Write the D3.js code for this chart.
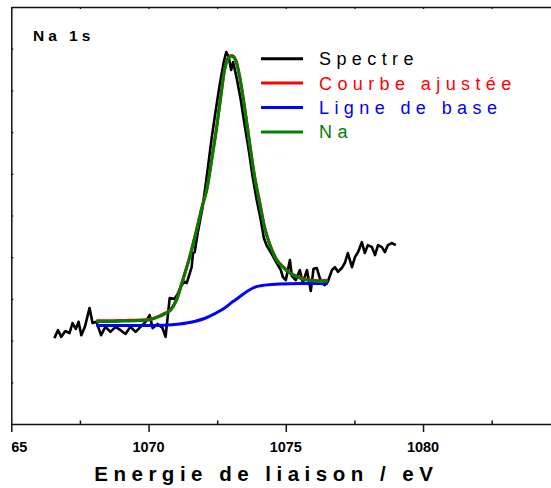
<!DOCTYPE html>
<html>
<head>
<meta charset="utf-8">
<script src="https://cdn.jsdelivr.net/npm/d3@7"></script>
<style>
  html, body { margin: 0; padding: 0; background: #fff; }
  svg { display: block; font-family: "Liberation Sans", Arial, sans-serif; }
</style>
</head>
<body>
<svg id="chart" width="551" height="488"></svg>
<script>
// ---- data ----
const spectrumEnergy = [1066.57,1066.70,1066.82,1066.97,1067.12,1067.23,1067.35,1067.45,1067.55,1067.68,1067.85,1067.96,1068.10,1068.27,1068.43,1068.61,1068.80,1068.98,1069.16,1069.34,1069.53,1069.71,1069.89,1070.04,1070.15,1070.33,1070.51,1070.62,1070.77,1070.95,1071.06,1071.20,1071.33,1071.39,1071.57,1071.62,1071.68,1071.79,1071.97,1072.15,1072.30,1072.45,1072.59,1072.74,1072.83,1072.92,1073.01,1073.08,1073.21,1073.36,1073.50,1073.65,1073.80,1073.94,1074.09,1074.20,1074.31,1074.45,1074.67,1074.82,1074.89,1075.00,1075.15,1075.22,1075.36,1075.51,1075.62,1075.77,1075.91,1076.01,1076.13,1076.24,1076.31,1076.42,1076.53,1076.68,1076.79,1076.90,1077.04,1077.15,1077.26,1077.41,1077.52,1077.63,1077.77,1077.88,1077.99,1078.14,1078.25,1078.36,1078.50,1078.61,1078.72,1078.87,1079.01];
const spectrumIntensity = [20.6,22.5,20.9,22.3,21.8,24.2,22.8,24.5,21.3,23.3,27.8,24.2,24.5,21.3,23.3,22.1,23.3,22.5,21.6,23.3,22.1,23.3,24.5,26.1,23.0,24.0,23.0,20.9,30.2,30.0,31.2,33.3,34.1,33.8,37.6,41.0,41.2,45.8,52.0,60.9,68.6,75.3,81.3,86.8,89.2,88.0,84.9,86.8,83.0,77.7,71.7,65.7,59.0,53.7,48.9,44.6,42.7,41.2,38.6,36.9,35.3,34.5,39.3,35.5,34.5,36.9,33.8,36.9,31.9,37.2,37.4,35.0,33.8,33.3,34.1,36.9,37.6,36.5,37.4,38.6,41.0,37.6,40.0,41.2,43.6,41.0,42.9,42.4,40.5,42.9,42.4,41.2,42.9,43.4,42.9];

const fitEnergy = [1068.10,1068.58,1069.12,1069.67,1070.04,1070.40,1070.62,1070.80,1071.02,1071.24,1071.50,1071.75,1071.97,1072.12,1072.30,1072.48,1072.63,1072.77,1072.92,1073.03,1073.18,1073.32,1073.50,1073.69,1073.87,1074.05,1074.23,1074.42,1074.67,1074.93,1075.15,1075.51,1075.88,1076.24,1076.53];
const fitIntensity = [24.6,24.6,24.7,24.8,25.0,25.8,26.5,27.3,29.7,34.3,40.0,46.5,52.5,56.1,63.3,71.0,78.4,84.9,87.8,88.2,87.1,83.2,75.8,66.9,59.0,53.0,47.0,42.9,39.3,37.4,36.2,35.0,34.4,34.2,34.3];
const naEnergy = fitEnergy;
const naIntensity = fitIntensity;

const baseEnergy = [1068.10,1068.94,1069.85,1070.58,1071.13,1071.67,1072.04,1072.40,1072.77,1073.06,1073.32,1073.61,1073.90,1074.23,1074.78,1075.51,1076.53];
const baseIntensity = [23.6,23.6,23.6,23.7,24.0,24.6,25.3,26.4,27.8,29.3,30.5,31.9,32.9,33.3,33.6,33.7,33.7];

const majorTicks = [1065, 1070, 1075, 1080];
const minorTicks = [1067.5, 1072.5, 1077.5, 1082.5];
const yTicks = [0,10,20,30,40,50,60,70,80,90,100];

const legendLabels = ["Spectre", "Courbe ajustée", "Ligne de base", "Na"];
const legendColors = ["#000000", "#ff0000", "#0000ff", "#008000"];
const panelLabel = "Na 1s";
const xTitle = "Energie de liaison / eV";

// ---- layout ----
const svg = d3.select("#chart");
svg.append("rect").attr("width", 551).attr("height", 488).attr("fill", "#fff");

const x = d3.scaleLinear().domain([1065, 1085]).range([11.3, 11.3 + 20 * 27.45]);
const y = d3.scaleLinear().domain([0, 100]).range([424, 7]);

const defs = svg.append("defs");
defs.append("clipPath").attr("id", "leftclip")
  .append("rect").attr("x", 10.4).attr("y", 0).attr("width", 560).attr("height", 488);
defs.append("clipPath").attr("id", "labelclip")
  .append("rect").attr("x", 11.6).attr("y", 430).attr("width", 560).attr("height", 40);

const axisColor = "#111";
const wrap = svg.append("g").attr("clip-path", "url(#leftclip)");

// bottom major ticks
const gB = wrap.append("g").attr("transform", `translate(0,${y(0)})`)
  .call(d3.axisBottom(x).tickValues(majorTicks).tickFormat(d3.format("d")).tickSize(8).tickSizeOuter(0));
gB.select(".domain").attr("stroke", axisColor).attr("stroke-width", 1.5);
gB.selectAll(".tick line").attr("stroke", axisColor).attr("stroke-width", 1.5);
gB.selectAll(".tick text").remove();

// bottom tick labels (clipped at the left edge like the reference)
const labG = svg.append("g").attr("clip-path", "url(#labelclip)");
labG.selectAll("text").data(majorTicks).join("text")
  .attr("x", d => x(d)).attr("y", 451.5)
  .attr("text-anchor", "middle")
  .style("font-size", "14.5px").style("font-weight", "bold")
  .style("font-family", '"Liberation Sans", Arial, sans-serif')
  .attr("fill", "#000")
  .text(d3.format("d"));

// bottom minor (inward)
const gBm = wrap.append("g").attr("transform", `translate(0,${y(0)})`)
  .call(d3.axisBottom(x).tickValues(minorTicks).tickFormat("").tickSize(-3.5).tickSizeOuter(0));
gBm.select(".domain").remove();
gBm.selectAll(".tick line").attr("stroke", axisColor).attr("stroke-width", 1.5);

// top frame
const gT = wrap.append("g").attr("transform", `translate(0,${y(100)})`)
  .call(d3.axisTop(x).tickValues(majorTicks.concat(minorTicks)).tickFormat("").tickSize(-2).tickSizeOuter(0));
gT.select(".domain").attr("stroke", axisColor).attr("stroke-width", 1.5);
gT.selectAll(".tick line").attr("stroke", axisColor).attr("stroke-width", 1.2);

// left frame
const gL = wrap.append("g").attr("transform", `translate(${x(1065)},0)`)
  .call(d3.axisLeft(y).tickValues(yTicks).tickFormat("").tickSize(-2).tickSizeOuter(0));
gL.select(".domain").attr("stroke", axisColor).attr("stroke-width", 1.5);
gL.selectAll(".tick line").attr("stroke", axisColor).attr("stroke-width", 1.2);

// lines
function pairs(a, b) { return a.map((v, i) => [v, b[i]]); }
const rawLine = d3.line().x(d => x(d[0])).y(d => y(d[1]));
const smoothLine = d3.line().x(d => x(d[0])).y(d => y(d[1])).curve(d3.curveMonotoneX);

svg.append("path").datum(pairs(spectrumEnergy, spectrumIntensity))
  .attr("d", rawLine).attr("fill", "none").attr("stroke", legendColors[0])
  .attr("stroke-width", 2.6).attr("stroke-linejoin", "round");
svg.append("path").datum(pairs(fitEnergy, fitIntensity))
  .attr("d", smoothLine).attr("fill", "none").attr("stroke", legendColors[1])
  .attr("stroke-width", 3).attr("transform", "translate(0,-0.6)");
svg.append("path").datum(pairs(baseEnergy, baseIntensity))
  .attr("d", smoothLine).attr("fill", "none").attr("stroke", legendColors[2]).attr("stroke-width", 3);
svg.append("path").datum(pairs(naEnergy, naIntensity))
  .attr("d", smoothLine).attr("fill", "none").attr("stroke", legendColors[3]).attr("stroke-width", 3);

// legend
const lg = svg.append("g");
legendLabels.forEach((lab, i) => {
  const ly = 58.7 + i * 24.4;
  lg.append("line").attr("x1", 261).attr("x2", 303).attr("y1", ly).attr("y2", ly)
    .attr("stroke", legendColors[i]).attr("stroke-width", 3);
  lg.append("text").attr("x", 319).attr("y", ly + 6.5)
    .attr("fill", legendColors[i]).style("font-size", "18px")
    .attr("letter-spacing", "5.4px").text(lab);
});

// panel label
svg.append("text").attr("x", 33).attr("y", 40.7)
  .style("font-size", "15.5px").style("font-weight", "bold").attr("letter-spacing", "4px")
  .attr("fill", "#000").text(panelLabel);

// axis title
svg.append("text").attr("x", 94.3).attr("y", 480.7)
  .style("font-size", "20.5px").style("font-weight", "bold").attr("letter-spacing", "5.5px")
  .attr("fill", "#000").text(xTitle);
</script>
</body>
</html>
